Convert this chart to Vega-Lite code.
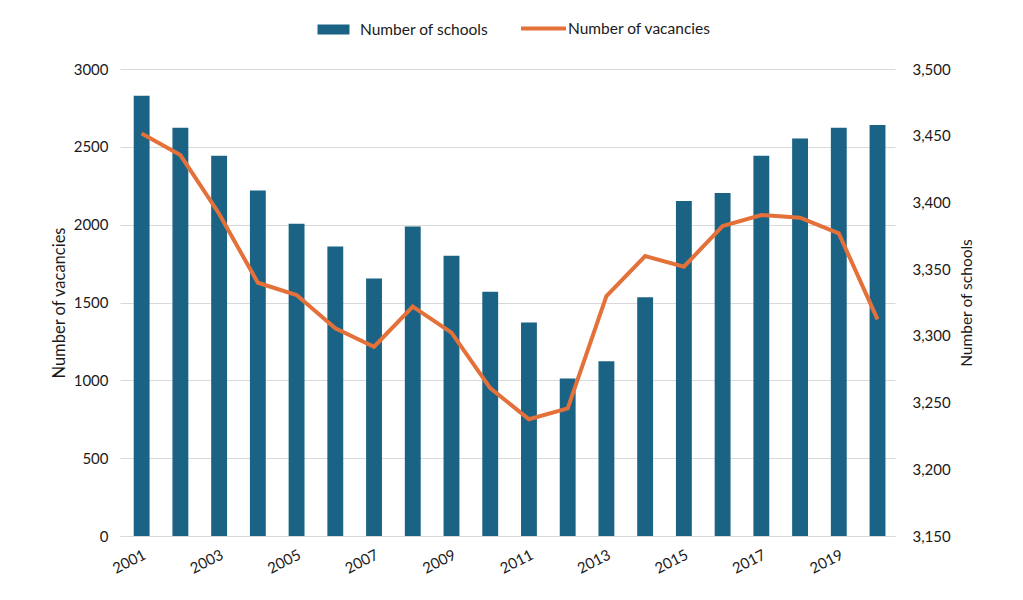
{
  "$schema": "https://vega.github.io/schema/vega-lite/v6.json",
  "width": 775,
  "height": 467,
  "autosize": {"type": "none"},
  "padding": {"left": 120, "top": 69, "right": 128, "bottom": 64},
  "background": "white",
  "config": {
    "font": "Lato",
    "view": {"stroke": null},
    "axis": {"labelFont": "Lato", "titleFont": "Lato", "labelFontSize": 15, "titleFontSize": 15.5, "labelColor": "#1a1a1a", "titleColor": "#1a1a1a", "titleFontWeight": "normal", "ticks": false, "domain": false, "gridColor": "#d9d9d9"},
    "legend": {"labelFont": "Lato", "labelFontSize": 15.5, "labelColor": "#1a1a1a"}
  },
  "data": {
    "values": [
      {"year": "2001", "schools": 3480, "vacancies": 2586},
      {"year": "2002", "schools": 3456, "vacancies": 2447},
      {"year": "2003", "schools": 3435, "vacancies": 2070},
      {"year": "2004", "schools": 3409, "vacancies": 1627},
      {"year": "2005", "schools": 3384, "vacancies": 1548},
      {"year": "2006", "schools": 3367, "vacancies": 1334},
      {"year": "2007", "schools": 3343, "vacancies": 1216},
      {"year": "2008", "schools": 3382, "vacancies": 1473},
      {"year": "2009", "schools": 3360, "vacancies": 1306},
      {"year": "2010", "schools": 3333, "vacancies": 950},
      {"year": "2011", "schools": 3310, "vacancies": 750},
      {"year": "2012", "schools": 3268, "vacancies": 820},
      {"year": "2013", "schools": 3281, "vacancies": 1541},
      {"year": "2014", "schools": 3329, "vacancies": 1798},
      {"year": "2015", "schools": 3401, "vacancies": 1730},
      {"year": "2016", "schools": 3407, "vacancies": 1991},
      {"year": "2017", "schools": 3435, "vacancies": 2062},
      {"year": "2018", "schools": 3448, "vacancies": 2045},
      {"year": "2019", "schools": 3456, "vacancies": 1944},
      {"year": "2020", "schools": 3458, "vacancies": 1392}
    ]
  },
  "encoding": {
    "x": {
      "field": "year", "type": "ordinal",
      "scale": {"paddingInner": 0.59, "paddingOuter": 0.3, "align": 0.59},
      "axis": {"title": null, "labelAngle": -27, "labelAlign": "right", "labelBaseline": "top", "labelPadding": 11, "labelExpr": "(+datum.value) % 2 == 1 ? datum.value : ''", "grid": false, "domain": true, "domainColor": "#d9d9d9"}
    }
  },
  "layer": [
    {
      "mark": {"type": "bar"},
      "encoding": {
        "y": {"field": "schools", "type": "quantitative", "scale": {"domain": [3150, 3500], "zero": false, "nice": false},
          "axis": {"orient": "right", "title": "Number of schools", "titleAngle": -90, "format": ",.0f", "values": [3150, 3200, 3250, 3300, 3350, 3400, 3450, 3500], "grid": false, "labelPadding": 17, "titlePadding": 24}},
        "y2": {"datum": 3150},
        "fill": {"datum": "Number of schools", "type": "nominal", "scale": {"range": ["#1b6385"]},
          "legend": {"orient": "none", "legendX": 201, "legendY": -52, "title": null, "symbolType": "M-1.3,-0.4H1.3V0.4H-1.3Z", "symbolSize": 605, "labelOffset": 14, "symbolStrokeWidth": 0}}
      }
    },
    {
      "mark": {"type": "line", "strokeWidth": 4, "color": "#e4703a"},
      "encoding": {
        "y": {"field": "vacancies", "type": "quantitative", "scale": {"domain": [0, 3000], "nice": false},
          "axis": {"orient": "left", "title": "Number of vacancies", "titleFontSize": 16.5, "format": "d", "values": [0, 500, 1000, 1500, 2000, 2500, 3000], "grid": true, "labelPadding": 12, "titlePadding": 6}},
        "stroke": {"datum": "Number of vacancies", "type": "nominal", "scale": {"range": ["#e4703a"]},
          "legend": {"orient": "none", "legendX": 399, "legendY": -65, "title": null, "symbolType": "stroke", "symbolSize": 2025, "symbolStrokeWidth": 4, "labelOffset": 0}}
      }
    }
  ],
  "resolve": {"scale": {"y": "independent", "fill": "independent", "stroke": "independent"}}
}
